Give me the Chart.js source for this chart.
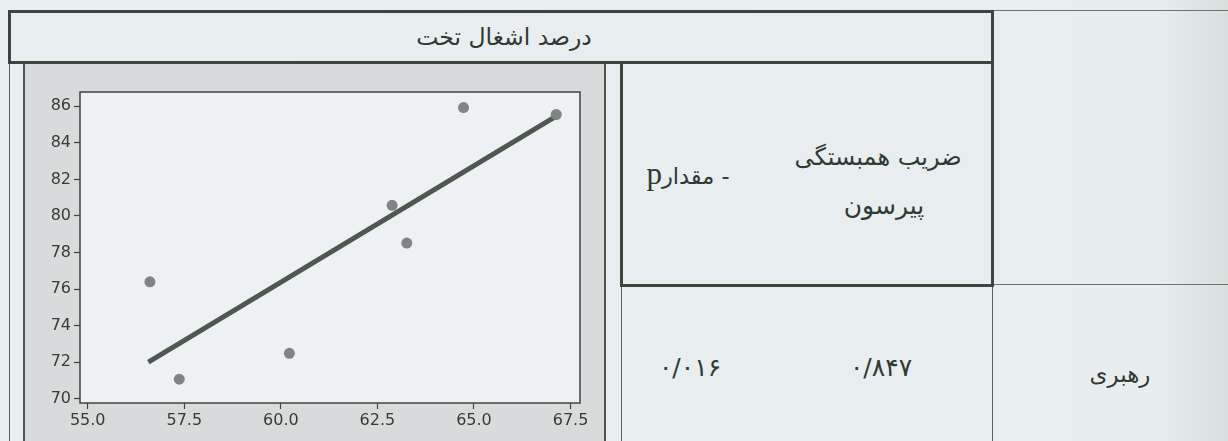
<!DOCTYPE html>
<html lang="fa">
<head>
<meta charset="utf-8">
<script src="https://cdn.jsdelivr.net/npm/chart.js@4"></script>
<style>
  html, body { margin: 0; padding: 0; }
  body {
    width: 1228px; height: 441px; overflow: hidden; position: relative;
    background: linear-gradient(to right, #e9eef0 0%, #e8edef 94%, #d9dedf 100%);
    font-family: "DejaVu Sans", sans-serif; color: #2f3a33;
  }
  .ln { position: absolute; background: #3b463e; }
  .txt { position: absolute; white-space: nowrap; direction: rtl; transform: translate(-50%, -50%); }
  #panel {
    position: absolute; left: 23px; top: 64px; width: 583px; height: 377px;
    background: #d7dbdc; border-left: 2px solid #4a554c; border-right: 2px solid #4a554c;
    box-sizing: border-box;
  }
  #panel canvas { position: absolute; left: -2px; top: 0; }
</style>
</head>
<body>
<!-- table lines -->
<div class="ln" style="left:8px;top:10px;width:986px;height:3px"></div>
<div class="ln" style="left:994px;top:10px;width:234px;height:1px;background:#6b746d"></div>
<div class="ln" style="left:8px;top:10px;width:3px;height:54px"></div>
<div class="ln" style="left:8px;top:61px;width:986px;height:3px"></div>
<div class="ln" style="left:9px;top:64px;width:1px;height:377px;background:#58625a"></div>
<div class="ln" style="left:620px;top:61px;width:3px;height:226px"></div>
<div class="ln" style="left:620px;top:284px;width:374px;height:3px"></div>
<div class="ln" style="left:991px;top:10px;width:3px;height:277px"></div>
<div class="ln" style="left:621px;top:287px;width:1px;height:154px;background:#58625a"></div>
<div class="ln" style="left:992px;top:287px;width:1px;height:154px;background:#58625a"></div>
<div class="ln" style="left:994px;top:284px;width:234px;height:1px;background:#6b746d"></div>

<div class="txt" style="left:504px;top:37px;font-size:23.5px">درصد اشغال تخت</div>
<div class="txt" style="left:878px;top:157px;font-size:24px">ضریب همبستگی</div>
<div class="txt" style="left:884px;top:205px;font-size:25px">پیرسون</div>
<div class="txt" style="left:688px;top:174px;font-size:22.5px">- مقدار<span style="font-family:'Liberation Serif',serif;font-size:31px">p</span></div>
<div class="txt" style="left:690px;top:367px;font-size:25px">۰/۰۱۶</div>
<div class="txt" style="left:881px;top:367px;font-size:25px">۰/۸۴۷</div>
<div class="txt" style="left:1120px;top:374px;font-size:23px">رهبری</div>

<div id="panel"><canvas id="grafico" width="583" height="377"></canvas></div>

<script>
// datos
const ocupacionX = [56.61, 57.37, 60.22, 62.88, 63.26, 64.73, 67.13];
const ocupacionY = [76.40, 71.07, 72.49, 80.58, 78.52, 85.93, 85.55];
const rectaX = [56.57, 67.13];
const rectaY = [72.0, 85.46];
const ticksX = [55.0, 57.5, 60.0, 62.5, 65.0, 67.5];
const ticksY = [70, 72, 74, 76, 78, 80, 82, 84, 86];

const tinta = '#3b463e';

// fondo blanco del area y marco completo
const marco = {
    id: 'marco',
    beforeDraw(chart) {
        const a = chart.chartArea, ctx = chart.ctx;
        ctx.save();
        ctx.fillStyle = '#eef1f3';
        ctx.fillRect(a.left, a.top, a.right - a.left, a.bottom - a.top);
        ctx.restore();
    },
    afterDraw(chart) {
        const a = chart.chartArea, ctx = chart.ctx;
        ctx.save();
        ctx.strokeStyle = tinta;
        ctx.lineWidth = 1.5;
        ctx.strokeRect(a.left, a.top, a.right - a.left, a.bottom - a.top);
        ctx.restore();
    }
};

const ctx = document.getElementById('grafico').getContext('2d');
new Chart(ctx, {
    type: 'scatter',
    data: {
        datasets: [
            {
                label: 'recta',
                type: 'line',
                data: rectaX.map((x, i) => ({ x: x, y: rectaY[i] })),
                borderColor: '#4d5850',
                borderWidth: 5,
                pointRadius: 0,
                fill: false,
                order: 1
            },
            {
                label: 'puntos',
                data: ocupacionX.map((x, i) => ({ x: x, y: ocupacionY[i] })),
                backgroundColor: '#7f8582',
                borderWidth: 0,
                pointRadius: 5.5,
                order: 0
            }
        ]
    },
    options: {
        responsive: false,
        animation: false,
        layout: { padding: { left: 0, top: 28, right: 26, bottom: 0 } },
        plugins: { legend: { display: false }, tooltip: { enabled: false } },
        scales: {
            x: {
                type: 'linear',
                min: 54.80,
                max: 67.745,
                afterBuildTicks: s => { s.ticks = ticksX.map(v => ({ value: v })); },
                afterFit: s => { s.height = 38; },
                ticks: {
                    callback: v => v.toFixed(1),
                    color: '#333d36',
                    font: { family: 'DejaVu Sans', size: 16 },
                    padding: 2,
                    maxRotation: 0,
                    autoSkip: false
                },
                grid: { drawOnChartArea: false, color: tinta, tickLength: 6, tickWidth: 1.2 },
                border: { display: false }
            },
            y: {
                type: 'linear',
                min: 69.77,
                max: 86.78,
                afterBuildTicks: s => { s.ticks = ticksY.map(v => ({ value: v })); },
                afterFit: s => { s.width = 57; },
                ticks: {
                    color: '#333d36',
                    font: { family: 'DejaVu Sans', size: 16 },
                    padding: 3,
                    autoSkip: false
                },
                grid: { drawOnChartArea: false, color: tinta, tickLength: 6, tickWidth: 1.2 },
                border: { display: false }
            }
        }
    },
    plugins: [marco]
});
</script>
</body>
</html>
